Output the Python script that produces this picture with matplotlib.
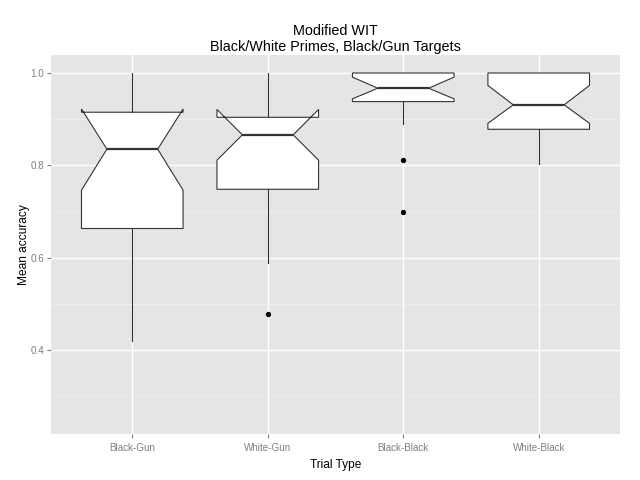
import matplotlib
matplotlib.use('Agg')
import matplotlib.pyplot as plt

plt.rcParams['font.family'] = ['Liberation Sans', 'DejaVu Sans']

# values
trial_types = ['Black-Gun', 'White-Gun', 'Black-Black', 'White-Black']
whis_lo = [0.420, 0.588, 0.889, 0.803]
q1      = [0.663, 0.748, 0.938, 0.878]
med     = [0.835, 0.866, 0.967, 0.931]
q3      = [0.915, 0.904, 1.000, 1.000]
whis_hi = [1.000, 1.000, 1.000, 1.000]
ci_lo   = [0.746, 0.811, 0.944, 0.891]
ci_hi   = [0.922, 0.921, 0.991, 0.973]
outliers = [[], [0.478], [0.811, 0.699], []]

stats = []
for i in range(len(trial_types)):
    stats.append(dict(label=trial_types[i], whislo=whis_lo[i], q1=q1[i], med=med[i],
                      q3=q3[i], whishi=whis_hi[i], cilo=ci_lo[i], cihi=ci_hi[i],
                      fliers=outliers[i]))

fig = plt.figure(figsize=(6.4, 4.8), dpi=100)
ax = fig.add_axes([51/640, 1-434.3/480, (620-51)/640, (434.3-55)/480])
ax.set_facecolor('#E5E5E5')

lc = '#333333'
pos = list(range(1, len(trial_types)+1))
ax.bxp(stats, positions=pos, widths=0.75, shownotches=True, showcaps=False,
       patch_artist=True,
       boxprops=dict(facecolor='white', edgecolor=lc, linewidth=0.8),
       whiskerprops=dict(color=lc, linewidth=0.8),
       medianprops=dict(color=lc, linewidth=1.6),
       flierprops=dict(marker='o', markerfacecolor='black', markeredgecolor='black',
                       markersize=2.8, linestyle='none'),
       zorder=3)

ax.set_xlim(0.4, 4.6)
ax.set_ylim(0.217, 1.039)
ax.set_yticks([0.4, 0.6, 0.8, 1.0])
ax.set_yticks([0.3, 0.5, 0.7, 0.9], minor=True)
ax.set_xticks(pos)
ax.set_xticklabels(trial_types)

ax.grid(which='major', color='white', linewidth=1.0, zorder=0)
ax.grid(which='minor', axis='y', color='#F2F2F2', linewidth=0.5, zorder=0)
ax.set_axisbelow(True)
for s in ax.spines.values():
    s.set_visible(False)

ax.tick_params(which='major', length=3, width=0.8, color='#7F7F7F',
               labelcolor='#7F7F7F', labelsize=7.1, pad=2)
ax.tick_params(axis='x', pad=3.5)
ax.tick_params(which='minor', length=0)

ax.set_xlabel('Trial Type', fontsize=8.6, labelpad=4)
ax.set_ylabel('Mean accuracy', fontsize=8.6, labelpad=0.5)
ax.set_title('Modified WIT\nBlack/White Primes, Black/Gun Targets', fontsize=10.4,
             linespacing=1.2, pad=3)

fig.savefig('out.png', dpi=100)
